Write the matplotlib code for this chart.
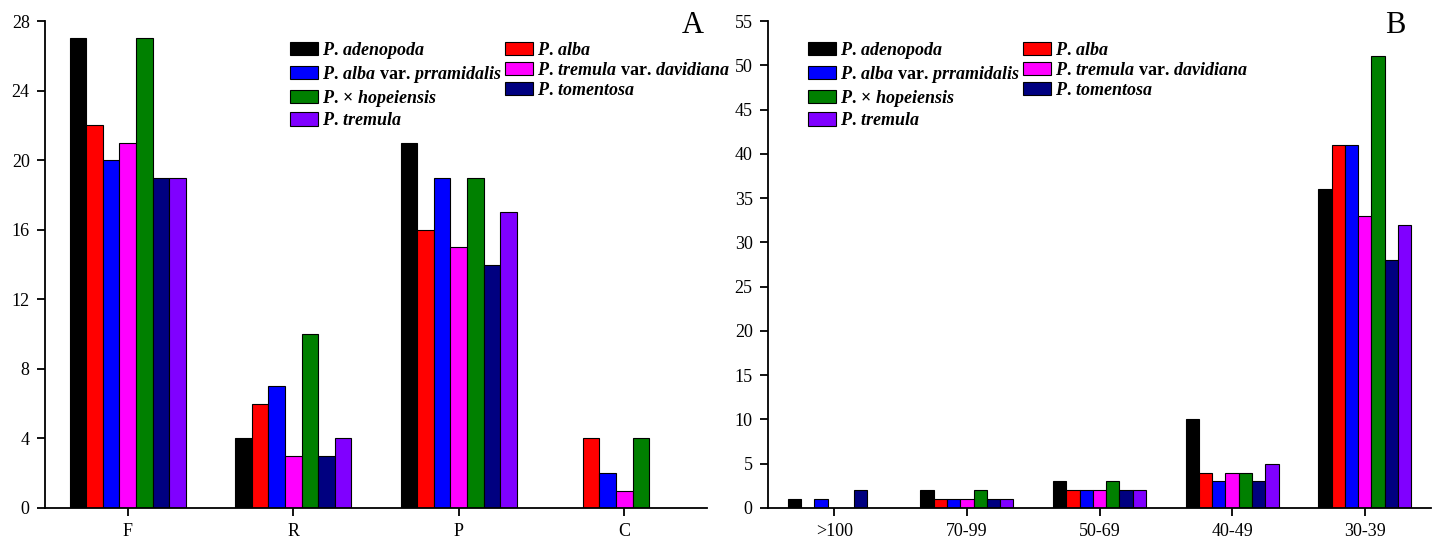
import numpy as np
import matplotlib.pyplot as plt
from matplotlib.patches import Patch

plt.rcParams['font.family'] = ['Liberation Serif', 'DejaVu Serif']
plt.rcParams['mathtext.fontset'] = 'custom'
plt.rcParams['mathtext.it'] = 'Liberation Serif:italic:bold'
plt.rcParams['mathtext.rm'] = 'Liberation Serif:bold'
plt.rcParams['mathtext.bf'] = 'Liberation Serif:bold'

# species and colours
species = [r'$P.\,adenopoda$', r'$P.\,alba$', r'$P.\,alba$ var. $prramidalis$',
           r'$P.\,tremula$ var. $davidiana$', r'$P.\,$× $hopeiensis$',
           r'$P.\,tomentosa$', r'$P.\,tremula$']
colors = ['#000000', '#ff0000', '#0000ff', '#ff00ff', '#008000', '#000080', '#8000ff']

# panel A
cats_a = ['F', 'R', 'P', 'C']
vals_a = [[27, 4, 21, 0],
          [22, 6, 16, 4],
          [20, 7, 19, 2],
          [21, 3, 15, 1],
          [27, 10, 19, 4],
          [19, 3, 14, 0],
          [19, 4, 17, 0]]

# panel B
cats_b = ['>100', '70-99', '50-69', '40-49', '30-39']
vals_b = [[1, 2, 3, 10, 36],
          [0, 1, 2, 4, 41],
          [1, 1, 2, 3, 41],
          [0, 1, 2, 4, 33],
          [0, 2, 3, 4, 51],
          [2, 1, 2, 3, 28],
          [0, 1, 2, 5, 32]]

fig = plt.figure(figsize=(14.37, 5.46), dpi=100)
W, H = 1437, 546
axA = fig.add_axes([45 / W, (H - 508) / H, 662 / W, 487 / H])
axB = fig.add_axes([768 / W, (H - 508) / H, 663 / W, 487 / H])

# legend is filled row by row in the original
order = [0, 2, 4, 6, 1, 3, 5]


def draw(ax, cats, vals, ymax, ystep, letter, letter_x, leg_x):
    x = np.arange(len(cats))
    w = 0.1
    for i, v in enumerate(vals):
        ax.bar(x + (i - 3) * w, v, w, color=colors[i], edgecolor='black', linewidth=0.8)
    ax.set_xlim(-0.5, len(cats) - 0.5)
    ax.set_ylim(0, ymax)
    ax.set_xticks(x)
    ax.set_xticklabels(cats)
    ax.set_yticks(np.arange(0, ymax + 1, ystep))
    for s in ['top', 'right']:
        ax.spines[s].set_visible(False)
    for s in ['left', 'bottom']:
        ax.spines[s].set_linewidth(1.3)
    ax.tick_params(direction='out', length=6, width=1.3, labelsize=13, pad=5)
    handles = [Patch(facecolor=colors[i], edgecolor='black', linewidth=0.8) for i in order]
    labels = [species[i] for i in order]
    ax.legend(handles, labels, ncol=2, loc='upper left',
              bbox_to_anchor=(leg_x, 0.962), frameon=False,
              prop={'weight': 'bold', 'size': 13},
              handlelength=1.55, handleheight=0.75, handletextpad=0.25,
              labelspacing=0.18, columnspacing=0.15, borderpad=0, borderaxespad=0)
    fig.text(letter_x / W, (H - 33) / H, letter, fontsize=22, ha='center', va='baseline')


draw(axA, cats_a, vals_a, 28, 4, 'A', 693, 0.37)
draw(axB, cats_b, vals_b, 55, 5, 'B', 1395, 0.06)

fig.savefig('out.png', dpi=100)
